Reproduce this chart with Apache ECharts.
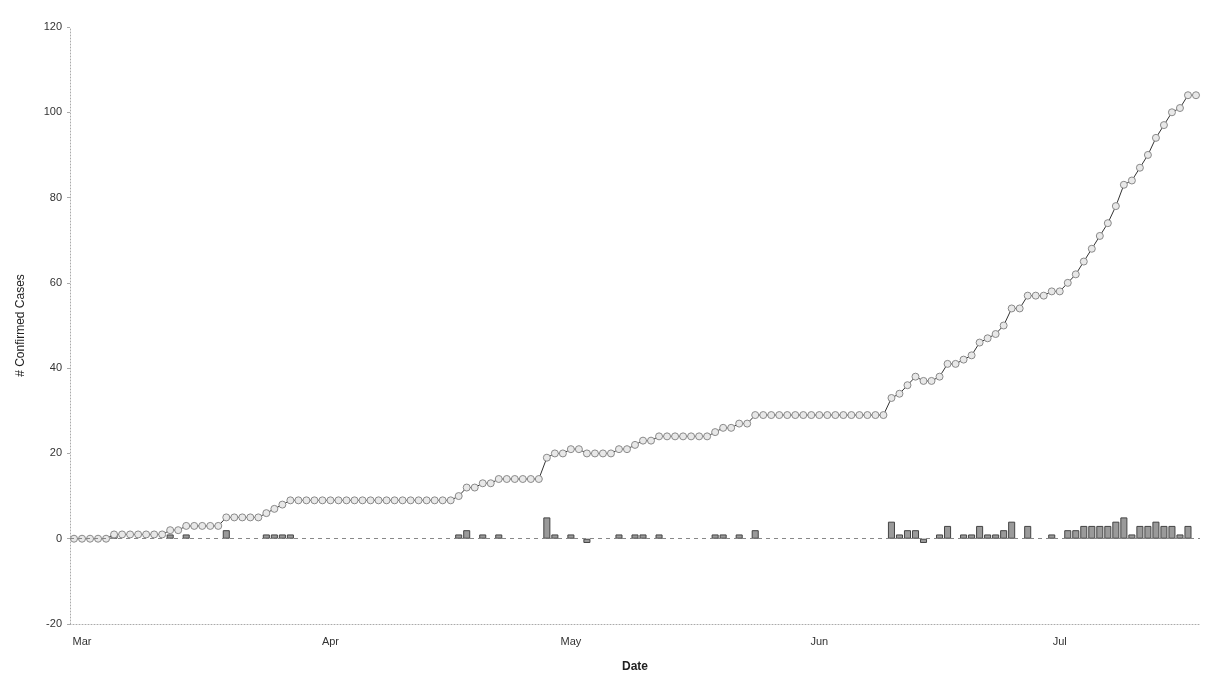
<!DOCTYPE html>
<html>
<head>
<meta charset="utf-8">
<script src="https://cdn.jsdelivr.net/npm/echarts@6/dist/echarts.min.js"></script>
<style>
  html, body { margin: 0; padding: 0; background: #fff; }
  #chart { width: 1225px; height: 684px; }
</style>
</head>
<body>
<div id="chart"></div>
<script>
// Daily dates, 2020-02-29 .. 2020-07-18
const startDate = '2020-02-29';
const dayCount = 141;

// Cumulative confirmed cases per day
const cumulativeCases = [
  0, 0, 0, 0, 0, 1, 1, 1, 1, 1,
  1, 1, 2, 2, 3, 3, 3, 3, 3, 5,
  5, 5, 5, 5, 6, 7, 8, 9, 9, 9,
  9, 9, 9, 9, 9, 9, 9, 9, 9, 9,
  9, 9, 9, 9, 9, 9, 9, 9, 10, 12,
  12, 13, 13, 14, 14, 14, 14, 14, 14, 19,
  20, 20, 21, 21, 20, 20, 20, 20, 21, 21,
  22, 23, 23, 24, 24, 24, 24, 24, 24, 24,
  25, 26, 26, 27, 27, 29, 29, 29, 29, 29,
  29, 29, 29, 29, 29, 29, 29, 29, 29, 29,
  29, 29, 33, 34, 36, 38, 37, 37, 38, 41,
  41, 42, 43, 46, 47, 48, 50, 54, 54, 57,
  57, 57, 58, 58, 60, 62, 65, 68, 71, 74,
  78, 83, 84, 87, 90, 94, 97, 100, 101, 104,
  104
];

// New cases per day
const dailyCases = [
  0, 0, 0, 0, 0, 1, 0, 0, 0, 0,
  0, 0, 1, 0, 1, 0, 0, 0, 0, 2,
  0, 0, 0, 0, 1, 1, 1, 1, 0, 0,
  0, 0, 0, 0, 0, 0, 0, 0, 0, 0,
  0, 0, 0, 0, 0, 0, 0, 0, 1, 2,
  0, 1, 0, 1, 0, 0, 0, 0, 0, 5,
  1, 0, 1, 0, -1, 0, 0, 0, 1, 0,
  1, 1, 0, 1, 0, 0, 0, 0, 0, 0,
  1, 1, 0, 1, 0, 2, 0, 0, 0, 0,
  0, 0, 0, 0, 0, 0, 0, 0, 0, 0,
  0, 0, 4, 1, 2, 2, -1, 0, 1, 3,
  0, 1, 1, 3, 1, 1, 2, 4, 0, 3,
  0, 0, 1, 0, 2, 2, 3, 3, 3, 3,
  4, 5, 1, 3, 3, 4, 3, 3, 1, 3,
  0
];

const monthNames = ['Jan', 'Feb', 'Mar', 'Apr', 'May', 'Jun', 'Jul', 'Aug', 'Sep', 'Oct', 'Nov', 'Dec'];
const yTicks = { min: -20, max: 120, step: 20 };

// Build the category labels (ISO dates) for each day
const dates = [];
{
  const d0 = new Date(startDate + 'T00:00:00Z');
  for (let i = 0; i < dayCount; i++) {
    const d = new Date(d0.getTime() + i * 86400000);
    dates.push(d.toISOString().slice(0, 10));
  }
}

const chart = echarts.init(document.getElementById('chart'), null, { renderer: 'canvas' });

const fontFamily = '"Liberation Sans", "DejaVu Sans", sans-serif';

// Zero-height bars get no outline so the dashed zero line stays visible
const barData = dailyCases.map(v => (v === 0 ? { value: v, itemStyle: { borderWidth: 0 } } : v));

chart.setOption({
  backgroundColor: '#ffffff',
  animation: false,
  grid: { left: 70, right: 25, top: 27, bottom: 60, containLabel: false },
  xAxis: {
    type: 'category',
    data: dates,
    boundaryGap: true,
    name: 'Date',
    nameLocation: 'middle',
    nameGap: 37,
    nameTextStyle: { color: '#222', fontSize: 12, fontWeight: 'bold', fontFamily },
    axisLine: { onZero: false, lineStyle: { color: '#aaa', type: [1, 2], width: 1 } },
    axisTick: { show: false },
    axisLabel: {
      interval: (idx, val) => val.slice(8) === '01',
      formatter: (val) => monthNames[parseInt(val.slice(5, 7), 10) - 1],
      color: '#333',
      fontSize: 11,
      margin: 12,
      fontFamily
    },
    splitLine: { show: false }
  },
  yAxis: {
    type: 'value',
    min: yTicks.min,
    max: yTicks.max,
    interval: yTicks.step,
    name: '# Confirmed Cases',
    nameLocation: 'middle',
    nameGap: 43,
    nameTextStyle: { color: '#222', fontSize: 12, fontFamily },
    axisLine: { show: true, lineStyle: { color: '#aaa', type: [1, 2], width: 1 } },
    axisTick: { show: true, length: 3, lineStyle: { color: '#aaa' } },
    axisLabel: { color: '#333', fontSize: 11, margin: 8, fontFamily },
    splitLine: { show: false }
  },
  series: [
    {
      name: 'New cases',
      type: 'bar',
      data: barData,
      barCategoryGap: '12%',
      itemStyle: { color: '#9a9a9a', borderColor: '#444', borderWidth: 1 },
      z: 2,
      markLine: {
        silent: true,
        symbol: 'none',
        label: { show: false },
        lineStyle: { color: '#888', type: [4, 4], width: 1 },
        data: [{ yAxis: 0 }]
      }
    },
    {
      name: 'Cumulative cases',
      type: 'line',
      data: cumulativeCases,
      symbol: 'circle',
      symbolSize: 7,
      showAllSymbol: true,
      lineStyle: { color: '#333', width: 1 },
      itemStyle: { color: '#e8e8e8', borderColor: '#8a8a8a', borderWidth: 1 },
      z: 3
    }
  ]
});
</script>
</body>
</html>
